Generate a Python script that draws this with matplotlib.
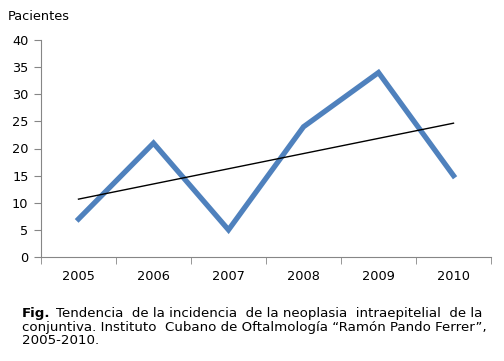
import matplotlib.pyplot as plt
import numpy as np

years = ['2005', '2006', '2007', '2008', '2009', '2010']
patients = [7, 21, 5, 24, 34, 15]

x = np.arange(len(years))
coef = np.polyfit(x, patients, 1)
trend = np.polyval(coef, x)

fig = plt.figure(figsize=(5.04, 3.61), dpi=100)
ax = fig.add_axes([41/504, 1 - 257/361, 450/504, 217/361])

ax.plot(x, patients, color='#4F81BD', lw=3.8, solid_joinstyle='miter', zorder=3)
ax.plot(x, trend, color='black', lw=1.0, zorder=4)

ax.set_xlim(-0.5, 5.5)
ax.set_ylim(0, 40)
ax.set_yticks(range(0, 41, 5))
ax.set_xticks(x)
ax.set_xticklabels(years)
ax.set_xticks(np.arange(-0.5, 6, 1), minor=True)
ax.tick_params(axis='x', which='major', length=0, pad=9, labelsize=9.3)
ax.tick_params(axis='x', which='minor', length=5, color='#868686', direction='out')
ax.tick_params(axis='y', length=5, color='#868686', direction='out', labelsize=9.3, pad=4)

for s in ['top', 'right']:
    ax.spines[s].set_visible(False)
for s in ['left', 'bottom']:
    ax.spines[s].set_color('#868686')

fig.text(8/504, 1 - 17/361, 'Pacientes', fontsize=9.3, va='center', ha='left')

fs = 9.6
bold = fig.text(22/504, 1 - 313/361, 'Fig.', fontsize=fs, fontweight='bold', va='center')
fig.canvas.draw()
bb = bold.get_window_extent()
fig.text((bb.x1 + 5)/504, 1 - 313/361,
         'Tendencia  de la incidencia  de la neoplasia  intraepitelial  de la',
         fontsize=fs, va='center')
fig.text(22/504, 1 - 327/361,
         'conjuntiva. Instituto  Cubano de Oftalmología “Ramón Pando Ferrer”,',
         fontsize=fs, va='center')
fig.text(22/504, 1 - 341/361, '2005-2010.', fontsize=fs, va='center')

plt.savefig('out.png', dpi=100)
